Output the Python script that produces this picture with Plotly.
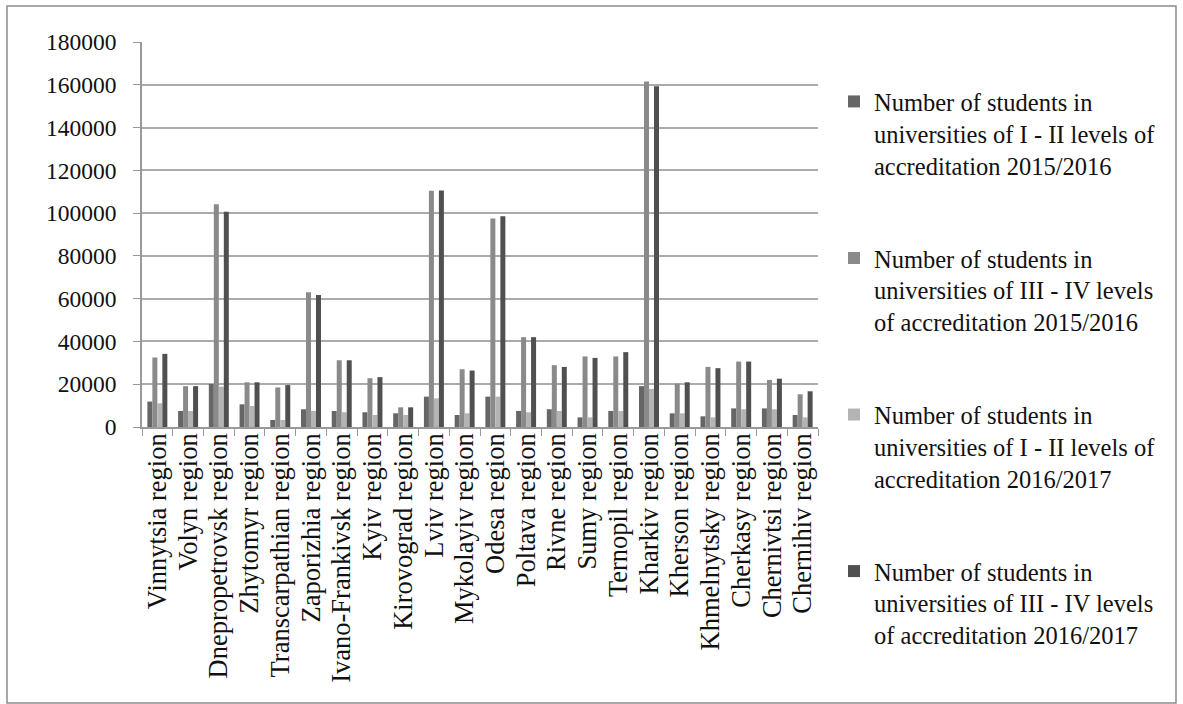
import plotly.graph_objects as go

regions = [
    "Vinnytsia region", "Volyn region", "Dnepropetrovsk region", "Zhytomyr region",
    "Transcarpathian region", "Zaporizhia region", "Ivano-Frankivsk region", "Kyiv region",
    "Kirovograd region", "Lviv region", "Mykolayiv region", "Odesa region",
    "Poltava region", "Rivne region", "Sumy region", "Ternopil region",
    "Kharkiv region", "Kherson region", "Khmelnytsky region", "Cherkasy region",
    "Chernivtsi region", "Chernihiv region",
]

lvl12_2015 = [11900, 7500, 20100, 10600, 3300, 8300, 7500, 6900, 6400, 14200, 5600,
              14200, 7500, 8300, 4500, 7500, 19100, 6400, 5000, 8700, 8700, 5600]
lvl34_2015 = [32500, 19100, 104200, 20900, 18500, 63000, 31200, 22800, 9200, 110500, 27000,
              97500, 42000, 28900, 33000, 33000, 161500, 20300, 28100, 30600, 22000, 15300]
lvl12_2016 = [11100, 7500, 18900, 9800, 3300, 7500, 6900, 5600, 5600, 13400, 6400,
              14200, 6900, 7500, 4500, 7500, 17800, 6400, 4500, 8300, 8300, 4500]
lvl34_2016 = [34200, 19100, 100600, 20900, 19600, 61700, 31200, 23300, 9200, 110600, 26400,
              98500, 42000, 28100, 32300, 35000, 159300, 20900, 27500, 30600, 22600, 16700]

series_names = [
    "Number of students in<br>universities of I - II levels of<br>accreditation 2015/2016",
    "Number of students in<br>universities of III - IV levels<br>of accreditation 2015/2016",
    "Number of students in<br>universities of I - II levels of<br>accreditation 2016/2017",
    "Number of students in<br>universities of III - IV levels<br>of accreditation 2016/2017",
]
series_values = [lvl12_2015, lvl34_2015, lvl12_2016, lvl34_2016]
series_colors = ["#666666", "#8a8a8a", "#b4b4b4", "#505050"]

y_ticks = list(range(0, 180001, 20000))

fig = go.Figure()
for i, (name, vals, col) in enumerate(zip(series_names, series_values, series_colors)):
    fig.add_trace(go.Bar(
        x=regions, y=vals, name=name, marker_color=col,
        marker_line_width=0, legendgroup=f"g{i}",
    ))

W, H = 1183, 704
L, R, T, B = 142, 365, 42, 277

def px_x(x):
    return (x - L) / (W - L - R)

def px_y(y):
    return (H - B - y) / (H - T - B)

font = "Liberation Serif"

fig.update_layout(
    width=W, height=H,
    margin=dict(l=L, r=R, t=T, b=B, pad=0),
    paper_bgcolor="white", plot_bgcolor="white",
    barmode="group", bargap=0.35, bargroupgap=0,
    font=dict(family=font, size=22, color="#111111"),
    showlegend=True,
    legend=dict(
        x=px_x(834), y=px_y(79), xanchor="left", yanchor="top",
        font=dict(family=font, size=24.5, color="#111111"),
        tracegroupgap=58, valign="top", itemwidth=30,
        bgcolor="rgba(0,0,0,0)", maxheight=700,
    ),
    xaxis=dict(
        type="category", tickmode="linear", tick0=0, dtick=1,
        tickangle=-90, showgrid=False,
        showline=True, linecolor="#999999", linewidth=1.5,
        ticks="outside", ticklen=7, tickcolor="#999999", tickson="boundaries",
        tickfont=dict(family=font, size=26.5, color="#111111"),
        ticklabelstandoff=-6,
    ),
    yaxis=dict(
        range=[0, 180000], tickvals=y_ticks, ticktext=[str(v) for v in y_ticks],
        showgrid=True, gridcolor="#ababab", gridwidth=1.5,
        showline=True, linecolor="#999999", linewidth=1.5,
        ticks="outside", ticklen=7, tickcolor="#999999",
        tickfont=dict(family=font, size=23.5, color="#111111"),
        ticklabelstandoff=12, zeroline=False,
    ),
    shapes=[dict(
        type="rect", xref="paper", yref="paper",
        x0=px_x(7), x1=px_x(1176), y0=px_y(703), y1=px_y(6),
        line=dict(color="#8c8c8c", width=1.5), fillcolor="rgba(0,0,0,0)", layer="below",
    )],
)

fig.write_html("out.html")
